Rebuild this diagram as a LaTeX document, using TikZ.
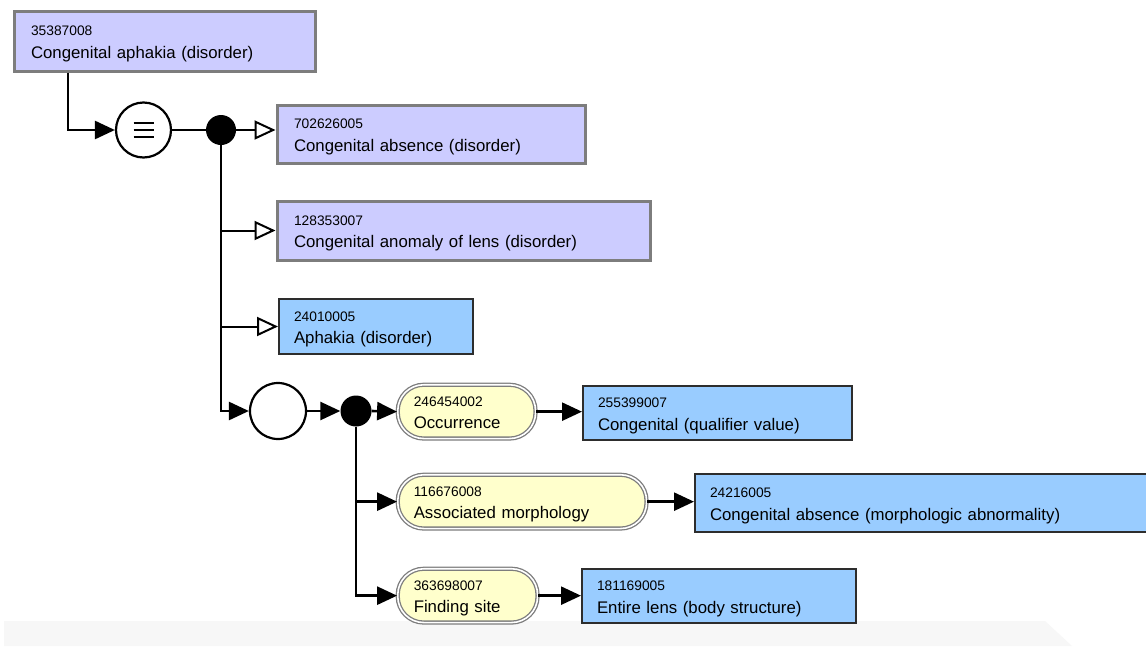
\documentclass[tikz,border=0pt]{standalone}
\usepackage{fontspec}
\setmainfont{Liberation Sans}
\usetikzlibrary{arrows.meta}

\definecolor{lav}{RGB}{204,204,255}
\definecolor{sky}{RGB}{153,204,255}
\definecolor{cream}{RGB}{255,255,204}
\definecolor{rim}{RGB}{125,125,125}
\definecolor{ink}{RGB}{45,45,45}
\definecolor{band}{RGB}{247,247,247}

% two-line concept label: identifier above, preferred term below
\newcommand{\concept}[2]{\rule{0pt}{15.5pt}{\fontsize{13.8}{14}\selectfont #1}\\#2\rule[-4pt]{0pt}{4pt}}

\tikzset{
  labelbase/.style={anchor=north west, align=left, inner ysep=0pt,
    font={\fontsize{16.8}{22.5}\selectfont}},
  lavbox/.style={labelbase, draw=rim, line width=3pt, fill=lav, inner xsep=17pt},
  skybox/.style={labelbase, draw=ink, line width=2pt, fill=sky, inner xsep=15pt},
  pill/.style={labelbase, draw=rim, line width=1.3pt, double=white,
    double distance=1.6pt, fill=cream, rounded corners=26pt, inner xsep=16pt},
  opnode/.style={circle, draw=black, line width=2.2pt, fill=white, minimum size=55pt, inner sep=0pt},
  joint/.style={circle, fill=black, inner sep=0pt},
  link/.style={draw=black, line width=2.6pt},
  solid/.style={link, -{Triangle[length=20pt,width=18pt]}},
  hollow/.style={draw=black, line width=2pt, -{Triangle[open,length=21pt,width=19pt,fill=white]}},
}

\begin{document}
\begin{tikzpicture}[x=1pt, y=-1pt]
  \fill[white] (0,0) rectangle (1146,646);
  \useasboundingbox (0,0) rectangle (1146,646);
  \fill[band] (4,621) -- (1045,621) -- (1072,646) -- (4,646) -- cycle;

  % defining concept and its parents
  \node[lavbox, text width=267pt, minimum height=60pt] (c1) at (12.5,9.5)
    {\concept{35387008}{Congenital aphakia (disorder)}};
  \node[opnode] (eq) at (143.5,130) {};
  \draw[line width=2.8pt] ([shift={(-10pt,7pt)}]eq.center) -- ++(20pt,0pt)
                          ([shift={(-10pt,0pt)}]eq.center) -- ++(20pt,0pt)
                          ([shift={(-10pt,-7pt)}]eq.center) -- ++(20pt,0pt);
  \node[joint, minimum size=30pt] (d1) at (221,130) {};

  \node[lavbox, text width=274pt, minimum height=58pt] (c2) at (275.5,103.5)
    {\concept{702626005}{Congenital absence (disorder)}};
  \node[lavbox, text width=339pt, minimum height=59pt] (c3) at (275.5,199.5)
    {\concept{128353007}{Congenital anomaly of lens (disorder)}};
  \node[skybox, text width=164pt, minimum height=55pt] (a4) at (278,298)
    {\concept{24010005}{Aphakia (disorder)}};

  % attribute group
  \node[opnode, minimum size=56pt] (ex) at (278,411) {};
  \node[joint, minimum size=31pt] (d2) at (356,411) {};

  \node[pill, text width=105.8pt, minimum height=53.8pt] (p1) at (397.1,384.1)
    {\concept{246454002}{Occurrence}};
  \node[pill, text width=216.8pt, minimum height=53.8pt] (p2) at (397.1,474.1)
    {\concept{116676008}{Associated morphology}};
  \node[pill, text width=107.8pt, minimum height=53.8pt] (p3) at (397.1,568.1)
    {\concept{363698007}{Finding site}};

  \node[skybox, text width=239pt, minimum height=54pt] (b1) at (582,385)
    {\concept{255399007}{Congenital (qualifier value)}};
  \node[skybox, text width=425pt, minimum height=58pt] (b2) at (694,473)
    {\concept{24216005}{Congenital absence (morphologic abnormality)}};
  \node[skybox, text width=244pt, minimum height=54pt] (b3) at (581,568)
    {\concept{181169005}{Entire lens (body structure)}};

  % connectors
  \draw[solid] ([xshift=55.5pt]c1.south west) |- (eq.west);
  \draw[link] (eq.east) -- (d1.west);
  \draw[hollow] (d1.east) -- (d1.east -| c2.west);
  \draw[hollow] (d1 |- c3.west) -- (c3.west);
  \draw[hollow] (d1 |- a4.west) -- (a4.west);
  \draw[solid] (d1.south) |- (ex.west);
  \draw[solid] (ex.east) -- (d2.west);
  \draw[solid] (d2.east) -- (p1.west);
  \draw[solid] (d2 |- p2.west) -- (p2.west);
  \draw[solid] (d2.south) |- (p3.west);
  \draw[solid] (p1.east) -- (p1.east -| b1.west);
  \draw[solid] (p2.east) -- (p2.east -| b2.west);
  \draw[solid] (p3.east) -- (p3.east -| b3.west);
\end{tikzpicture}
\end{document}
